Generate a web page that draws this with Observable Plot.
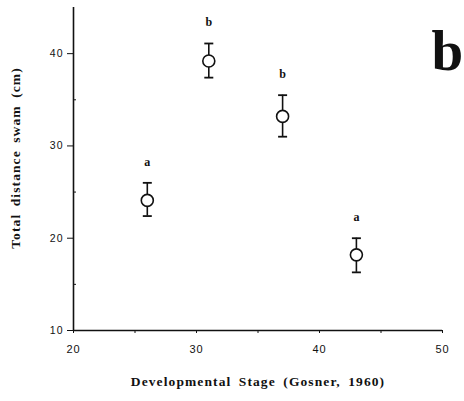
<!DOCTYPE html>
<html><head><meta charset="utf-8">
<script src="https://cdn.jsdelivr.net/npm/d3@7"></script>
<script src="https://cdn.jsdelivr.net/npm/@observablehq/plot@0.6"></script>
<style>body{margin:0;background:#fff}
.title-text{letter-spacing:1.1px;word-spacing:3px}
.tick-text{letter-spacing:1px}
</style>
</head><body><div id="chart"></div>
<script>
const stages = [26, 31, 37, 43];
const means = [24.1, 39.2, 33.2, 18.2];
const upper = [26.0, 41.1, 35.5, 20.0];
const lower = [22.4, 37.4, 31.0, 16.3];
const groups = ["a", "b", "b", "a"];
const xTicks = [20, 30, 40, 50];
const yTicks = [10, 20, 30, 40];
const yMinor = [15, 25, 35];
const xMinor = [25, 35, 45];

const data = stages.map((s, i) => ({x: s, y: means[i], lo: lower[i], hi: upper[i], g: groups[i]}));

const capSymbol = {draw(ctx, size) { const w = 4.5; ctx.moveTo(-w, 0); ctx.lineTo(w, 0); }};

const serif = "'Liberation Serif', 'Times New Roman', serif";
const sans = "'Liberation Sans', Arial, sans-serif";

const chart = Plot.plot({
  width: 464, height: 401,
  marginLeft: 73, marginRight: 22, marginTop: 7, marginBottom: 71,
  x: {domain: [20, 50]},
  y: {domain: [10, 45]},
  style: {background: "#fff", color: "#111"},
  marks: [
    Plot.axisY({ticks: yTicks, tickSize: 6, tickPadding: 4, fontSize: 10.5, fontFamily: sans, label: null, className: "tick-text"}),
    Plot.axisY({ticks: yMinor, tickSize: -3, text: null, label: null}),
    Plot.axisX({ticks: xTicks, tickSize: 3, tickPadding: 12, fontSize: 11, fontFamily: sans, label: null, className: "tick-text"}),
    Plot.axisX({ticks: xMinor, tickSize: 3, text: null, label: null}),
    Plot.ruleX([20], {stroke: "#111", strokeWidth: 1.6}),
    Plot.ruleY([10], {stroke: "#111", strokeWidth: 1.4}),
    Plot.ruleX(data, {x: "x", y1: "lo", y2: "hi", stroke: "#111", strokeWidth: 1.6}),
    Plot.dot(data, {x: "x", y: "hi", symbol: capSymbol, stroke: "#111", strokeWidth: 1.8}),
    Plot.dot(data, {x: "x", y: "lo", symbol: capSymbol, stroke: "#111", strokeWidth: 1.8}),
    Plot.dot(data, {x: "x", y: "y", r: 6, fill: "#fff", stroke: "#111", strokeWidth: 1.6}),
    Plot.text(data, {x: "x", y: "hi", text: "g", dy: -21, fontFamily: serif, fontSize: 12, fontWeight: "bold", fill: "#111"}),
    Plot.text(["Developmental Stage (Gosner, 1960)"], {frameAnchor: "bottom", dy: 55, text: d => d, fontFamily: serif, fontSize: 13.5, fontWeight: "bold", fill: "#111", className: "title-text"}),
    Plot.text(["Total distance swam (cm)"], {frameAnchor: "left", textAnchor: "middle", dx: -58, dy: -11, rotate: -90, text: d => d, fontFamily: serif, fontSize: 13.5, fontWeight: "bold", fill: "#111", className: "title-text"}),
    Plot.text(["b"], {frameAnchor: "top-right", dx: -11, dy: 44, text: d => d, textAnchor: "start", lineAnchor: "middle", fontFamily: serif, fontSize: 57, fontWeight: "bold", fill: "#111"})
  ]
});
document.getElementById("chart").append(chart);
</script>
</body></html>
